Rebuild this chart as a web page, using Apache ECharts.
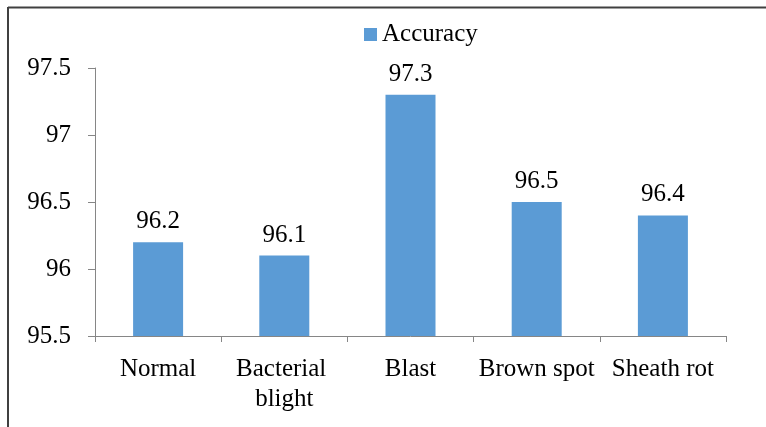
<!DOCTYPE html>
<html>
<head>
<meta charset="utf-8">
<script src="https://cdn.jsdelivr.net/npm/echarts@6/dist/echarts.min.js"></script>
<style>
  html, body { margin: 0; padding: 0; background: #fff; }
  #chart { width: 766px; height: 427px; }
</style>
</head>
<body>
<div id="chart"></div>
<script>
// Classification accuracy per rice leaf condition
const categories = ['Normal', 'Bacterial blight', 'Blast', 'Brown spot', 'Sheath rot'];
const accuracy = [96.2, 96.1, 97.3, 96.5, 96.4];
const seriesName = 'Accuracy';
const yMin = 95.5;
const yMax = 97.5;
const yStep = 0.5;

const FONT = '"Liberation Serif", "Times New Roman", serif';
const chart = echarts.init(document.getElementById('chart'));

chart.setOption({
  animation: false,
  backgroundColor: '#ffffff',
  textStyle: { fontFamily: FONT },
  legend: {
    data: [seriesName],
    top: 17,
    left: 359,
    itemWidth: 13,
    itemHeight: 13,
    itemGap: 8,
    icon: 'rect',
    textStyle: { fontFamily: FONT, fontSize: 25, color: '#000' }
  },
  grid: { left: 95, right: 40, top: 68, bottom: 91, containLabel: false },
  xAxis: {
    type: 'category',
    data: categories,
    axisLine: { lineStyle: { color: '#868686', width: 1 } },
    axisTick: { show: true, length: 6, lineStyle: { color: '#868686' } },
    axisLabel: {
      interval: 0,
      margin: 18,
      fontFamily: FONT,
      fontSize: 25,
      color: '#000',
      lineHeight: 30,
      width: 124,
      overflow: 'break'
    }
  },
  yAxis: {
    type: 'value',
    min: yMin,
    max: yMax,
    interval: yStep,
    axisLine: { show: true, lineStyle: { color: '#868686', width: 1 } },
    axisTick: { show: true, length: 7, lineStyle: { color: '#868686' } },
    splitLine: { show: false },
    axisLabel: {
      margin: 24,
      fontFamily: FONT,
      fontSize: 25,
      color: '#000',
      formatter: v => String(parseFloat(v.toFixed(1)))
    }
  },
  series: [{
    name: seriesName,
    type: 'bar',
    data: accuracy,
    barWidth: 50,
    itemStyle: { color: '#5B9BD5' },
    label: {
      show: true,
      position: 'top',
      distance: 8,
      fontFamily: FONT,
      fontSize: 25,
      color: '#000'
    }
  }],
  graphic: [
    { type: 'line', shape: { x1: 8, y1: 7.5, x2: 766, y2: 7.5 }, style: { stroke: '#404040', lineWidth: 2 } },
    { type: 'line', shape: { x1: 8, y1: 7, x2: 8, y2: 427 }, style: { stroke: '#404040', lineWidth: 2 } }
  ]
});
</script>
</body>
</html>
